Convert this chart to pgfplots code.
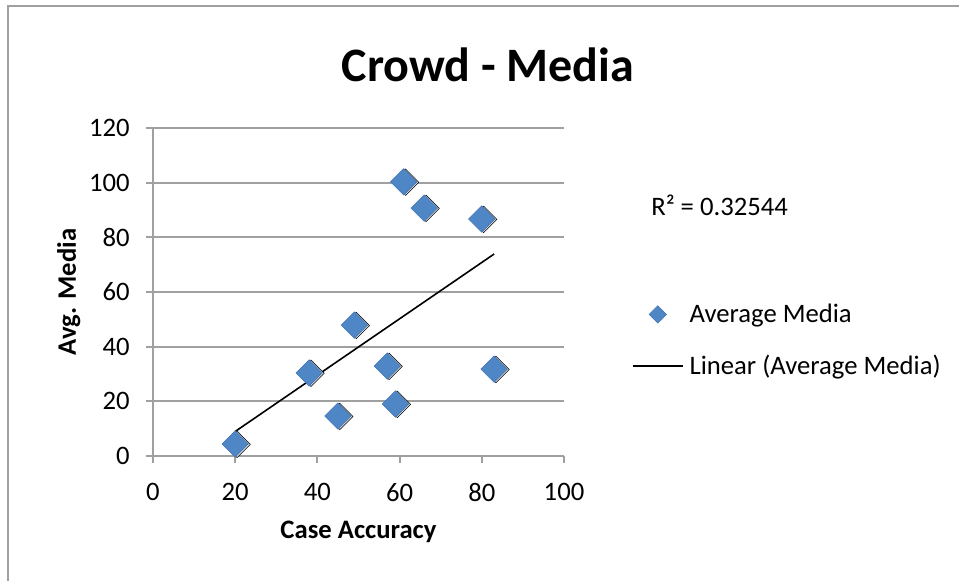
\documentclass[border=0pt]{standalone}
\usepackage{fontspec}
\setmainfont{Carlito}
\usepackage{pgfplots}
\pgfplotsset{compat=1.18}

\definecolor{gridgray}{RGB}{160,160,160}
\definecolor{markblue}{RGB}{79,134,198}
\definecolor{markedge}{RGB}{66,116,176}

\begin{document}
\begin{tikzpicture}
% picture is 959 x 581 px, 1px = 0.75pt
\begin{axis}[
    at={(114.75pt,93.75pt)}, anchor=south west,
    scale only axis,
    width=308.25pt, height=246pt,
    xmin=0, xmax=100, ymin=0, ymax=120,
    xtick={0,20,...,100}, ytick={0,20,...,120},
    axis lines*=left,
    axis line style={gridgray, line width=1.5pt},
    tick align=outside,
    major tick length=5.25pt,
    major tick style={gridgray, line width=1.5pt},
    ymajorgrids=true,
    major grid style={gridgray, line width=1.5pt},
    /pgf/number format/assume math mode=true,
    tick label style={font=\fontsize{20}{24}\selectfont},
    xticklabel style={inner sep=0pt, yshift=-15pt},
    yticklabel style={inner sep=0pt, xshift=-12pt},
    every axis x label/.style={at={(axis description cs:0.5,-0.232)}, anchor=center},
    every axis y label/.style={at={(axis description cs:-0.205,0.5)}, rotate=90, anchor=center},
    label style={font=\bfseries\fontsize{20}{24}\selectfont},
    xlabel={Case Accuracy},
    ylabel={Avg. Media},
    legend style={at={(1.1655,0.352)}, anchor=west, draw=none, fill=none,
        inner sep=0pt, outer sep=0pt, row sep=0pt,
        nodes={inner sep=0pt},
        font=\fontsize{20}{24}\selectfont,
        cells={anchor=west},
        /tikz/every odd column/.append style={column sep=4.5pt}},
    clip=false,
]
% soft shadow under the markers
\addplot[only marks, mark=square*, mark size=7pt,
    mark options={rotate=45, xshift=0.8pt, yshift=-1.2pt, fill=black!12, draw=none}, forget plot]
coordinates {
    (20,4.4) (38,30.4) (45,14.6) (49,47.9) (57,32.9)
    (59,19.0) (61,100.3) (66,90.7) (80,86.7) (83,31.8)
};
\addplot[only marks, mark=square*, mark size=7pt,
    mark options={rotate=45, fill=markblue, draw=markedge, line width=0.4pt},
    legend image code/.code={
        \path (0pt,-19pt) (37.5pt,19pt);
        \draw[mark repeat=2, mark phase=2, mark size=4.6pt]
            plot coordinates {(0pt,0pt) (18.75pt,0pt) (37.5pt,0pt)};}]
coordinates {
    (20,4.4) (38,30.4) (45,14.6) (49,47.9) (57,32.9)
    (59,19.0) (61,100.3) (66,90.7) (80,86.7) (83,31.8)
};
\addlegendentry{Average Media}
% linear trendline endpoints
\addplot[black, line width=1.2pt, no marks,
    legend image code/.code={
        \path (0pt,-19pt) (37.5pt,19pt);
        \draw[black, line width=1.2pt] (0pt,0pt) -- (37.5pt,0pt);}]
coordinates {(20,8.97) (83,73.9)};
\addlegendentry{Linear (Average Media)}
\end{axis}
\node[font=\bfseries\fontsize{36}{40}\selectfont] at (366pt,387pt) {Crowd - Media};
\node[anchor=base west, inner sep=0pt, font=\fontsize{20}{24}\selectfont] at (488.25pt,274pt) {R² = 0.32544};
\draw[gridgray, line width=1.5pt] (6pt,0pt) -- (6pt,431.25pt) -- (719.25pt,431.25pt);
\pgfresetboundingbox
\path (0pt,0pt) rectangle (719.25pt,435.75pt);
\end{tikzpicture}
\end{document}
